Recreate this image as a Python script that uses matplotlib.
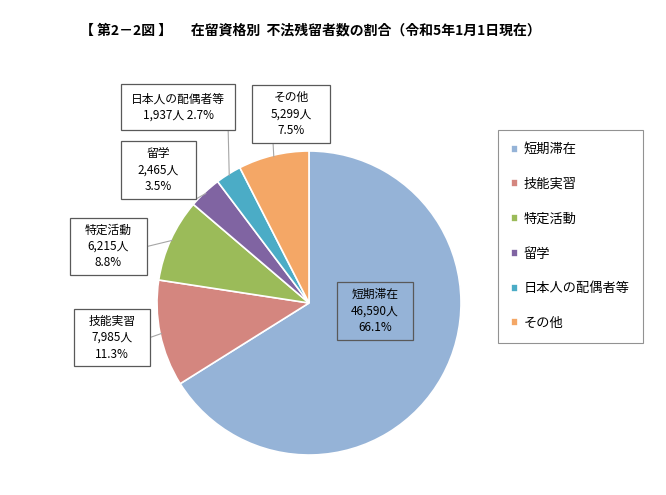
import numpy as np
import matplotlib
matplotlib.use("Agg")
import matplotlib.pyplot as plt
from matplotlib.patches import Rectangle

plt.rcParams['font.family'] = ['Noto Sans CJK JP', 'DejaVu Sans']

categories = ["短期滞在", "技能実習", "特定活動", "留学", "日本人の配偶者等", "その他"]
counts = [46590, 7985, 6215, 2465, 1937, 5299]
shares = [66.1, 11.3, 8.8, 3.5, 2.7, 7.5]
colors = ["#95B3D7", "#D4867F", "#9BBB59", "#8064A2", "#4BACC6", "#F4A766"]

# label boxes in figure pixels: (left, top, right, bottom), y measured from top
boxes = [(337, 282, 413, 340), (74, 309, 150, 366), (70, 218, 147, 275),
         (121, 141, 196, 199), (121, 84, 235, 130), (252, 85, 330, 143)]
# where each leader line leaves its box (relative position on the box)
leader_from = [None, (1.0, 0.5), (1.0, 0.5), (1.0, 0.0), (0.94, 0.0), (0.27, 0.0)]

W, H = 666, 495
fig = plt.figure(figsize=(W / 100, H / 100), dpi=100)

cx, cy, r = 309, 303, 152
ax = fig.add_axes([(cx - r) / W, (H - cy - r) / H, 2 * r / W, 2 * r / H])
wedges, _ = ax.pie(counts, colors=colors, startangle=90, counterclock=False,
                   radius=1, wedgeprops=dict(edgecolor="white", linewidth=1.2))
ax.set_xlim(-1, 1); ax.set_ylim(-1, 1)
ax.set_aspect("auto")
ax.axis("off")


def fx(px):
    return px / W


def fy(py):
    return 1 - py / H


for i, (w, cat, n, p) in enumerate(zip(wedges, categories, counts, shares)):
    x0, y0, x1, y1 = boxes[i]
    fig.patches.append(Rectangle((fx(x0), fy(y1)), fx(x1) - fx(x0), fy(y0) - fy(y1),
                                 transform=fig.transFigure, fill=(i != 0), fc="white",
                                 ec="#595959", lw=0.9, zorder=5))
    if cat == "日本人の配偶者等":
        txt = f"{cat}\n{n:,}人 {p}%"
    else:
        txt = f"{cat}\n{n:,}人\n{p}%"
    fig.text(fx((x0 + x1) / 2), fy((y0 + y1) / 2), txt, ha="center", va="center",
             fontsize=8.5, linespacing=1.35, zorder=6)
    if leader_from[i] is None:
        continue
    rx, ry = leader_from[i]
    sx = x0 + rx * (x1 - x0)
    sy = y1 - ry * (y1 - y0)
    ang = np.deg2rad((w.theta1 + w.theta2) / 2)
    ax.annotate("", xy=(np.cos(ang) * 0.99, np.sin(ang) * 0.99), xycoords="data",
                xytext=(fx(sx), fy(sy)), textcoords="figure fraction",
                arrowprops=dict(arrowstyle="-", color="#A6A6A6", lw=0.8,
                                shrinkA=0, shrinkB=0))

leg = fig.legend(wedges, categories, loc="upper left",
                 bbox_to_anchor=(498 / W, 1 - 130 / H), frameon=True, fancybox=False,
                 fontsize=9.5, labelspacing=1.65, handlelength=0.55, handleheight=0.55,
                 handletextpad=0.4, borderpad=1.0, borderaxespad=0)
leg.get_frame().set_edgecolor("#777777")
leg.get_frame().set_linewidth(0.8)

fig.text(80 / W, 1 - 30 / H,
         "【 第2－2図 】      在留資格別  不法残留者数の割合（令和5年1月1日現在）",
         ha="left", va="center", fontsize=10, fontweight="bold")

fig.savefig("out.png", dpi=100)
